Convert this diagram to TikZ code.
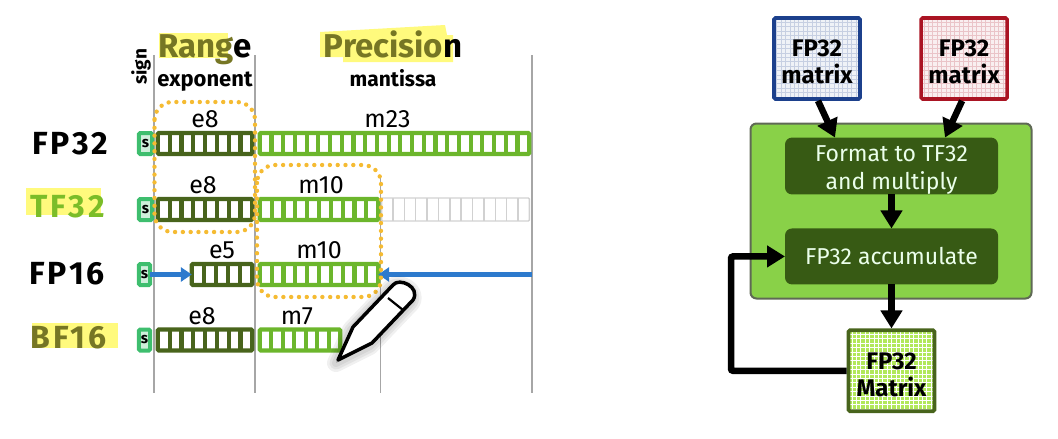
\documentclass[tikz,border=0pt]{standalone}
\usepackage{xcolor}
\usepackage{fontspec}
\setmainfont{Fira Sans}
\usepackage{tikz}
\usetikzlibrary{arrows.meta,positioning,calc}
\definecolor{expgreen}{RGB}{72,100,28}
\definecolor{mantgreen}{RGB}{108,182,44}
\definecolor{signgreen}{RGB}{62,190,110}
\definecolor{panelgreen}{RGB}{137,209,72}
\definecolor{panelgray}{RGB}{95,105,85}
\definecolor{darkgreen}{RGB}{55,90,20}
\definecolor{cellgreen}{RGB}{178,232,90}
\definecolor{dotorange}{RGB}{245,187,50}
\definecolor{markyellow}{RGB}{255,250,125}
\definecolor{markolive}{RGB}{118,118,36}
\definecolor{linkblue}{RGB}{45,122,205}
\definecolor{matblue}{RGB}{28,64,140}
\definecolor{matred}{RGB}{170,20,35}
\tikzstyle{signbox} = [rectangle, rounded corners=1.5pt, minimum width=13.4pt, minimum height=21pt,
    inner sep=0pt, outer sep=0pt, draw=signgreen, fill=signgreen!25, line width=4pt, font=\fontsize{15}{15}\selectfont\bfseries]
\tikzstyle{expbar} = [rectangle, rounded corners=1pt, minimum height=21pt, inner sep=0pt, outer sep=0pt,
    draw=expgreen, line width=4.2pt]
\tikzstyle{mantbar} = [rectangle, rounded corners=1pt, minimum height=21pt, inner sep=0pt, outer sep=0pt,
    draw=mantgreen, line width=4.2pt]
\tikzstyle{unusedbar} = [rectangle, rounded corners=1pt, minimum height=23pt, inner sep=0pt, outer sep=0pt,
    draw=black!18, line width=1.4pt]
\tikzstyle{bitlabel} = [font=\fontsize{25}{25}\selectfont, inner sep=0pt]
\tikzstyle{rowlabel} = [font=\fontsize{32}{32}\selectfont\bfseries\addfontfeature{LetterSpace=9}, inner sep=0pt]
\tikzstyle{headlabel} = [font=\fontsize{33}{33}\selectfont\bfseries, inner sep=0pt, anchor=base]
\tikzstyle{sublabel} = [font=\fontsize{22}{22}\selectfont\bfseries, inner sep=0pt, anchor=base]
\tikzstyle{rule} = [draw=black!35, line width=1.3pt]
\tikzstyle{dotbox} = [draw=dotorange, line width=4.4pt, line cap=round, dash pattern=on 0pt off 7.8pt, rounded corners=18pt]
\tikzstyle{marker} = [fill=markyellow]
\tikzstyle{bluearrow} = [draw=linkblue, line width=4.4pt, -{Triangle[length=11pt,width=14pt]}]
\tikzstyle{arrow} = [draw=black, line width=6.5pt, -{Triangle[length=18pt,width=21pt]}]
\tikzstyle{matrixbox} = [rectangle, rounded corners=1.5pt, minimum width=86pt, minimum height=81pt, align=center,
    line width=3.6pt, font=\fontsize{24}{27}\selectfont\bfseries]
\tikzstyle{stepbox} = [rectangle, rounded corners=7pt, minimum width=213pt, minimum height=56pt, align=center,
    fill=darkgreen, text=white!92!green, inner ysep=0pt, outer sep=0pt, font=\fontsize{23}{28}\selectfont]
\tikzset{meshfill/.style={path picture={
    \draw[#1, line width=0.9pt, step=4.4pt] (path picture bounding box.south west) grid (path picture bounding box.north east);}}}
\newcommand{\bitcells}[3]{%
    \pgfmathtruncatemacro{\lastcell}{#2-1}
    \foreach \i in {1,...,\lastcell}
        \draw[#3] ($(#1.north west)!\i/#2!(#1.north east)$) -- ($(#1.south west)!\i/#2!(#1.south east)$);
}
\begin{document}
\begin{tikzpicture}[x=1pt,y=-1pt]
\useasboundingbox (0,0) rectangle (1058,439);
% Highlights
\fill[marker] (159,33) rectangle (228,58);
\fill[marker] (320,32) -- (445,25) -- (447,35) -- (453,35) -- (453,62) -- (343,62) -- (343,57) -- (320,57) -- cycle;
\fill[marker] (26,188) rectangle (101,215);
\fill[marker] (32,323) rectangle (118,348);
% Rules
\draw[rule] (154,55) -- (154,393);
\draw[rule] (255,55) -- (255,393);
\draw[rule] (380.5,176) -- (380.5,393);
\draw[rule] (532,55) -- (532,393);
% Headings
\node[headlabel] (range) at (205,57) {\textcolor{markolive}{Rang}e};
\node[headlabel] (precision) at (393,57) {\textcolor{markolive}{Precisio}n};
\node[sublabel] (exponent) at (205,86) {exponent};
\node[sublabel, font=\fontsize{21}{21}\selectfont\bfseries] (mantissa) at (393,86) {mantissa};
\node[sublabel, font=\fontsize{19}{19}\selectfont\bfseries, anchor=center, rotate=90] (sign) at (141,67) {sign};
% FP32
\node[rowlabel] (fp32) at (70,144) {FP32};
\node[signbox] (s1) at (145.5,143.5) {s};
\node[expbar, minimum width=94.4pt, right=5.6pt of s1] (e1) {};
\node[mantbar, minimum width=269.4pt, right=7.6pt of e1] (m1) {};
\bitcells{e1}{8}{expgreen, line width=4.2pt}
\bitcells{m1}{23}{mantgreen, line width=4.2pt}
\node[bitlabel, above=5pt of e1] (e1l) {e8};
\node[bitlabel, above=5pt of m1, xshift=-7pt] (m1l) {m23};
% TF32
\node[rowlabel, text=mantgreen!90!yellow] (tf32) at (67.5,207) {TF32};
\node[signbox] (s2) at (145.5,209.5) {s};
\node[expbar, minimum width=94.4pt, right=5.6pt of s2] (e2) {};
\node[mantbar, minimum width=118.4pt, right=7.6pt of e2] (m2) {};
\node[unusedbar, minimum width=147.8pt, right=3.4pt of m2] (u2) {};
\bitcells{e2}{8}{expgreen, line width=4.2pt}
\bitcells{m2}{10}{mantgreen, line width=4.2pt}
\bitcells{u2}{13}{black!18, line width=1.4pt}
\node[bitlabel, above=5pt of e2, xshift=-2pt] (e2l) {e8};
\node[bitlabel, above=5pt of m2, xshift=2pt] (m2l) {m10};
% FP16
\node[rowlabel] (fp16) at (67,274) {FP16};
\node[signbox, minimum width=11.4pt] (s3) at (144.5,274.5) {s};
\node[expbar, minimum width=60.4pt] (e3) at (222,274.5) {};
\node[mantbar, minimum width=118.4pt, right=7.6pt of e3] (m3) {};
\coordinate (rightend) at (532,274.5);
\bitcells{e3}{5}{expgreen, line width=4.2pt}
\bitcells{m3}{10}{mantgreen, line width=4.2pt}
\node[bitlabel, above=5pt of e3] (e3l) {e5};
\node[bitlabel, above=5pt of m3] (m3l) {m10};
\draw[bluearrow] (s3) -- (e3);
\draw[bluearrow] (rightend) -- (m3);
% BF16
\node[rowlabel, text=markolive] (bf16) at (68.5,338) {BF16};
\node[signbox, minimum width=11.4pt] (s4) at (144.5,340) {s};
\node[expbar, minimum width=94.4pt] (e4) at (205,340) {};
\node[mantbar, minimum width=80.4pt, right=7.6pt of e4] (m4) {};
\bitcells{e4}{8}{expgreen, line width=4.2pt}
\bitcells{m4}{7}{mantgreen, line width=4.2pt}
\node[bitlabel, above=5pt of e4, xshift=-3pt] (e4l) {e8};
\node[bitlabel, above=5pt of m4, xshift=-3pt] (m4l) {m7};
% Range and precision outlines
\draw[dotbox] (154.5,102) rectangle (255,232);
\draw[dotbox] (257,165) rectangle (381,297);
% Pen
\foreach \w in {18,13,8}
    \draw[black, opacity=0.06, line width=\w pt, line join=round, fill=black, xshift=-2pt, yshift=-3pt]
        (338,360) -- (353,327) -- (393,285) .. controls (399,277) and (421,287) .. (413,300) -- (372,343) -- cycle;
\draw[line width=3.5pt, line join=round, fill=white]
    (338,360) -- (353,327) -- (393,285) .. controls (399,277) and (421,287) .. (413,300) -- (372,343) -- cycle;
\draw[line width=2.2pt] (388,298) -- (403,310);
% Matrix flow
\node[rectangle, rounded corners=6pt, minimum width=281pt, minimum height=175pt, draw=panelgray, fill=panelgreen, line width=2pt] (panel) at (891,211) {};
\node[matrixbox, draw=matblue, fill=matblue!7, meshfill=matblue!25] (blue) at (817,58.5) {\rule{0pt}{24pt}FP32\\matrix};
\node[matrixbox, draw=matred, fill=matred!7, meshfill=matred!25, right=57.5pt of blue] (red) {\rule{0pt}{24pt}FP32\\matrix};
\node[stepbox] (format) at (891.5,166) {\rule{0pt}{24pt}Format to TF32\\and multiply};
\node[stepbox, below=34pt of format] (accum) {FP32 accumulate};
\node[matrixbox, draw=expgreen, fill=cellgreen, meshfill=white, below=44pt of accum] (result) {\rule{0pt}{24pt}FP32\\Matrix};
% Arrows
\draw[arrow] ($(blue.south)+(1,0)$) -- ($(format.north)+(-56.5,0)$);
\draw[arrow] ($(red.south)+(-2,0)$) -- ($(format.north)+(53.5,0)$);
\draw[arrow] (format) -- (accum);
\draw[arrow] (accum) -- (result);
\draw[arrow, rounded corners=2pt] (result.west) -| ($(accum.west)+(-54,0)$) -- (accum.west);
\end{tikzpicture}
\end{document}
